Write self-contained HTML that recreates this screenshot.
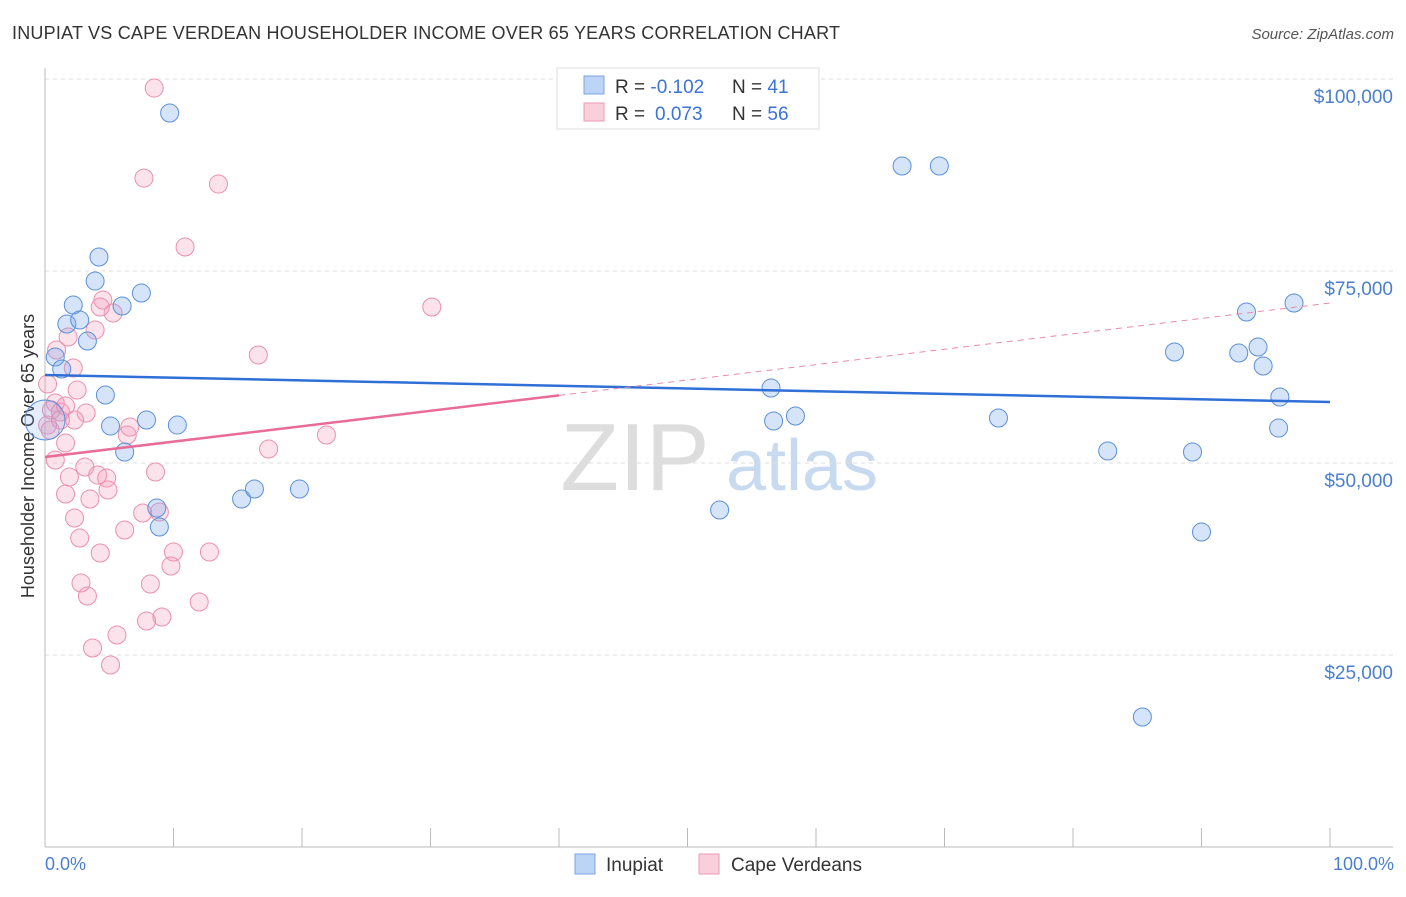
<!DOCTYPE html>
<html><head><meta charset="utf-8"><style>
body{margin:0;background:#fff;font-family:"Liberation Sans",sans-serif;}
svg text{font-family:"Liberation Sans",sans-serif;}
</style></head><body>
<svg id="chart" width="1406" height="892" xmlns="http://www.w3.org/2000/svg">
<text x="12" y="39" font-size="18" fill="#333" textLength="828">INUPIAT VS CAPE VERDEAN HOUSEHOLDER INCOME OVER 65 YEARS CORRELATION CHART</text>
<text x="1394" y="39" font-size="15" fill="#555" font-style="italic" text-anchor="end">Source: ZipAtlas.com</text>
<g>
<text x="635" y="490" font-size="96" font-family="Liberation Serif" fill="#ddd" text-anchor="middle">ZIP</text>
<text x="802" y="490" font-size="72" fill="#c8daf0" text-anchor="middle">atlas</text>
</g>
<g id="grid"></g>
<g id="axes"></g>
<text transform="translate(34,456) rotate(-90)" font-size="18" fill="#333" text-anchor="middle">Householder Income Over 65 years</text>
<text x="45" y="870" font-size="18" fill="#4a7fd0">0.0%</text>
<text x="1394" y="870" font-size="18" fill="#4a7fd0" text-anchor="end">100.0%</text>
<g id="pts"></g>
<g id="trends"></g>
<g>
<rect x="557" y="68" width="262" height="61" fill="#fff" stroke="#ddd"/>
<rect x="584" y="76" width="20" height="18" fill="#bcd4f5" stroke="#7aa5e0"/>
<rect x="584" y="103" width="20" height="18" fill="#f9cfdc" stroke="#eb9ab4"/>
<text x="615" y="93" font-size="19" fill="#333">R = <tspan fill="#3b73d6">-0.102</tspan><tspan x="732">N = </tspan><tspan fill="#3b73d6">41</tspan></text>
<text x="615" y="120" font-size="19" fill="#333">R = <tspan x="655" fill="#3b73d6">0.073</tspan><tspan x="732">N = </tspan><tspan fill="#3b73d6">56</tspan></text>
</g>
<g>
<rect x="575" y="854" width="20" height="20" fill="#bcd4f5" stroke="#7aa5e0"/>
<text x="606" y="871" font-size="19" fill="#333">Inupiat</text>
<rect x="699" y="854" width="20" height="20" fill="#f9cfdc" stroke="#eb9ab4"/>
<text x="731" y="871" font-size="19" fill="#333">Cape Verdeans</text>
</g>
</svg>
<script>
const yTicks=[25000,50000,75000,100000];
const yTickLabels=["$25,000","$50,000","$75,000","$100,000"];
const xTicks=[0,10,20,30,40,50,60,70,80,90,100];
const inupiatX=[9.7,66.7,69.6,4.2,3.9,7.5,2.2,6.0,1.7,2.7,3.3,0.8,1.3,4.7,56.5,87.9,92.9,94.4,94.8,93.5,97.2,96.1,96.0,74.2,56.7,58.4,7.9,10.3,5.1,6.2,82.7,89.3,15.3,16.3,19.8,8.7,8.9,52.5,90.0,85.4,0];
const inupiatY=[95570,88670,88670,76820,73690,72130,70570,70440,68100,68620,65880,63800,62240,58850,59760,64450,64320,65100,62630,69660,70830,58590,54550,55860,55470,56120,55600,54940,54810,51430,51560,51430,45310,46610,46610,44140,41660,43880,41010,16930,55600];
const capeX=[8.5,7.7,13.5,10.9,30.1,4.5,5.3,4.3,3.9,1.8,0.9,16.6,2.2,0.2,2.5,0.8,0.5,1.2,3.2,2.3,0.2,6.4,6.6,1.6,17.4,21.9,0.8,3.1,1.9,4.1,4.8,8.6,1.6,3.5,4.9,2.3,7.6,8.9,6.2,2.7,4.3,10.0,12.8,9.8,2.8,8.2,3.3,12.0,9.1,7.9,5.6,3.7,5.1,1.2,0.4,1.6];
const capeY=[98820,87100,86320,78120,70310,71220,69530,70310,67310,66400,64710,64060,62370,60280,59500,57810,56900,56640,56510,55600,54940,53640,54680,52600,51820,53640,50390,49480,48170,48430,48040,48830,45960,45310,46480,42840,43490,43620,41270,40230,38280,38410,38410,36590,34370,34240,32680,31900,29950,29430,27600,25910,23700,55600,54290,57420];
const inupiatTrend=[61460,57940];
const capeTrend=[50780,70830];
const capeSolidEnd=40;

const NS="http://www.w3.org/2000/svg";
const X=v=>45+v*12.85;
const Y=v=>847-v/25000*192;
function mk(tag,attrs,parent){const e=document.createElementNS(NS,tag);for(const k in attrs)e.setAttribute(k,attrs[k]);parent.appendChild(e);return e;}
const grid=document.getElementById('grid'),axes=document.getElementById('axes'),pts=document.getElementById('pts'),tr=document.getElementById('trends');
yTicks.forEach((t,i)=>{
  const l=mk('line',{x1:45,x2:1393,y1:Y(t),y2:Y(t),stroke:'#ddd','stroke-dasharray':'4,4'},grid);
  
  
  const tx=mk('text',{x:1393,y:Y(t)+24,'font-size':19,fill:'#4a7fd0','text-anchor':'end'},grid);
  tx.textContent=yTickLabels[i];
  
  
});
mk('line',{x1:45,x2:45,y1:68,y2:847,stroke:'#bbb'},axes);
mk('line',{x1:45,x2:1393,y1:847,y2:847,stroke:'#bbb'},axes);
xTicks.forEach(t=>{
  const l=mk('line',{x1:X(t),x2:X(t),y1:828,y2:847,stroke:'#bbb'},axes);
  
  
});
capeX.forEach((x,i)=>{
  const c=mk('circle',{cx:X(x),cy:Y(capeY[i]),r:9,fill:'rgba(244,160,188,0.3)',stroke:'#eb8fae','stroke-width':1},pts);
  
  
});
inupiatX.forEach((x,i)=>{
  const big=i===inupiatX.length-1;
  const c=mk('circle',{cx:X(x),cy:Y(inupiatY[i]),r:big?20:9,fill:big?'rgba(120,165,235,0.2)':'rgba(120,165,235,0.3)',stroke:'#5b8fd9','stroke-width':1},pts);
  
  
});
const b=mk('line',{x1:X(0),x2:X(100),y1:Y(inupiatTrend[0]),y2:Y(inupiatTrend[1]),stroke:'#2f6fd6','stroke-width':2.5},tr);


const pe=capeTrend[0]+(capeTrend[1]-capeTrend[0])*capeSolidEnd/100;
const p1=mk('line',{x1:X(0),x2:X(capeSolidEnd),y1:Y(capeTrend[0]),y2:Y(pe),stroke:'#e86b98','stroke-width':2.5},tr);


const p2=mk('line',{x1:X(capeSolidEnd),x2:X(100),y1:Y(pe),y2:Y(capeTrend[1]),stroke:'#e88aab','stroke-width':1,'stroke-dasharray':'6,5'},tr);


</script>
</body></html>
